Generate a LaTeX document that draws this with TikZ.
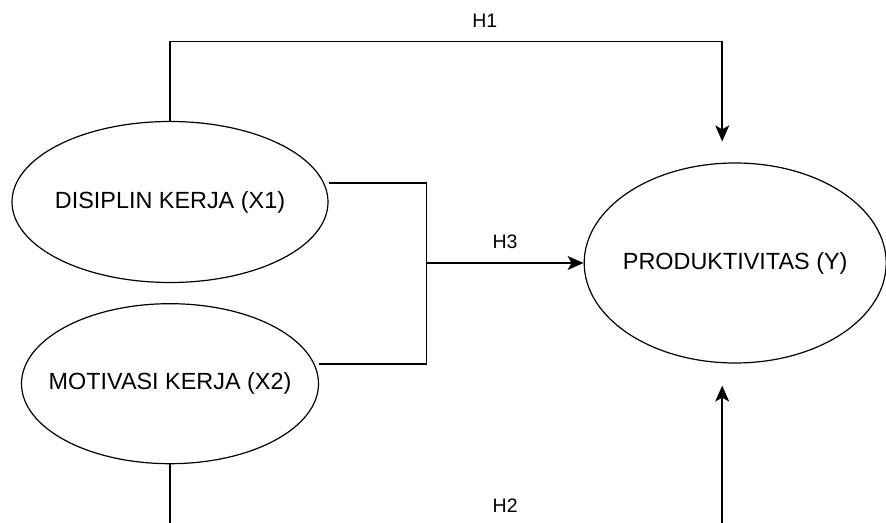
\documentclass[tikz,border=0pt]{standalone}
\usepackage{fontspec}
\setmainfont{Liberation Sans}
\usetikzlibrary{shapes.geometric, arrows.meta, positioning}

\begin{document}
\begin{tikzpicture}[
    x=1pt, y=1pt,
    var/.style={ellipse, draw, line width=1.2pt, inner xsep=-20pt, inner ysep=0pt, font=\fontsize{23.4}{28}\selectfont},
    line/.style={line width=1.5pt},
    arrow/.style={line, -{Stealth[length=16pt, width=14pt, inset=4pt]}},
    lbl/.style={inner sep=0pt, font=\fontsize{19.5}{23}\selectfont}
]
\useasboundingbox (0,0) rectangle (886,522);
\clip (0,0) rectangle (886,522);

% Nodes
\node[var, minimum width=316pt, minimum height=161pt] (x1) at (170,320) {DISIPLIN KERJA (X1)};
\node[var, minimum width=297pt, minimum height=160pt, below=20pt of x1] (x2) {MOTIVASI KERJA (X2)};
\node[var, minimum width=302pt, minimum height=200pt, right=255pt of x1, yshift=-61pt] (y) {PRODUKTIVITAS (Y)};

\coordinate (join) at ([xshift=-157pt]y.west);

% Edges
\draw[arrow] (x1.north) -- ++(0,79.5) -| node[lbl, above=13.5pt, pos=0.285] {H1} ([xshift=-13pt,yshift=21pt]y.north);
\draw[line] ([yshift=19pt]x1.east) -| (join);
\draw[line] ([yshift=19.5pt]x2.east) -| (join);
\draw[arrow] (join) -- node[lbl, above=13.5pt] {H3} (y.west);
\draw[arrow] (x2.south) -- ++(0,-62.5) -| node[lbl, above=13.5pt, pos=0.3035] {H2} ([xshift=-13pt,yshift=-22pt]y.south);

\end{tikzpicture}
\end{document}
